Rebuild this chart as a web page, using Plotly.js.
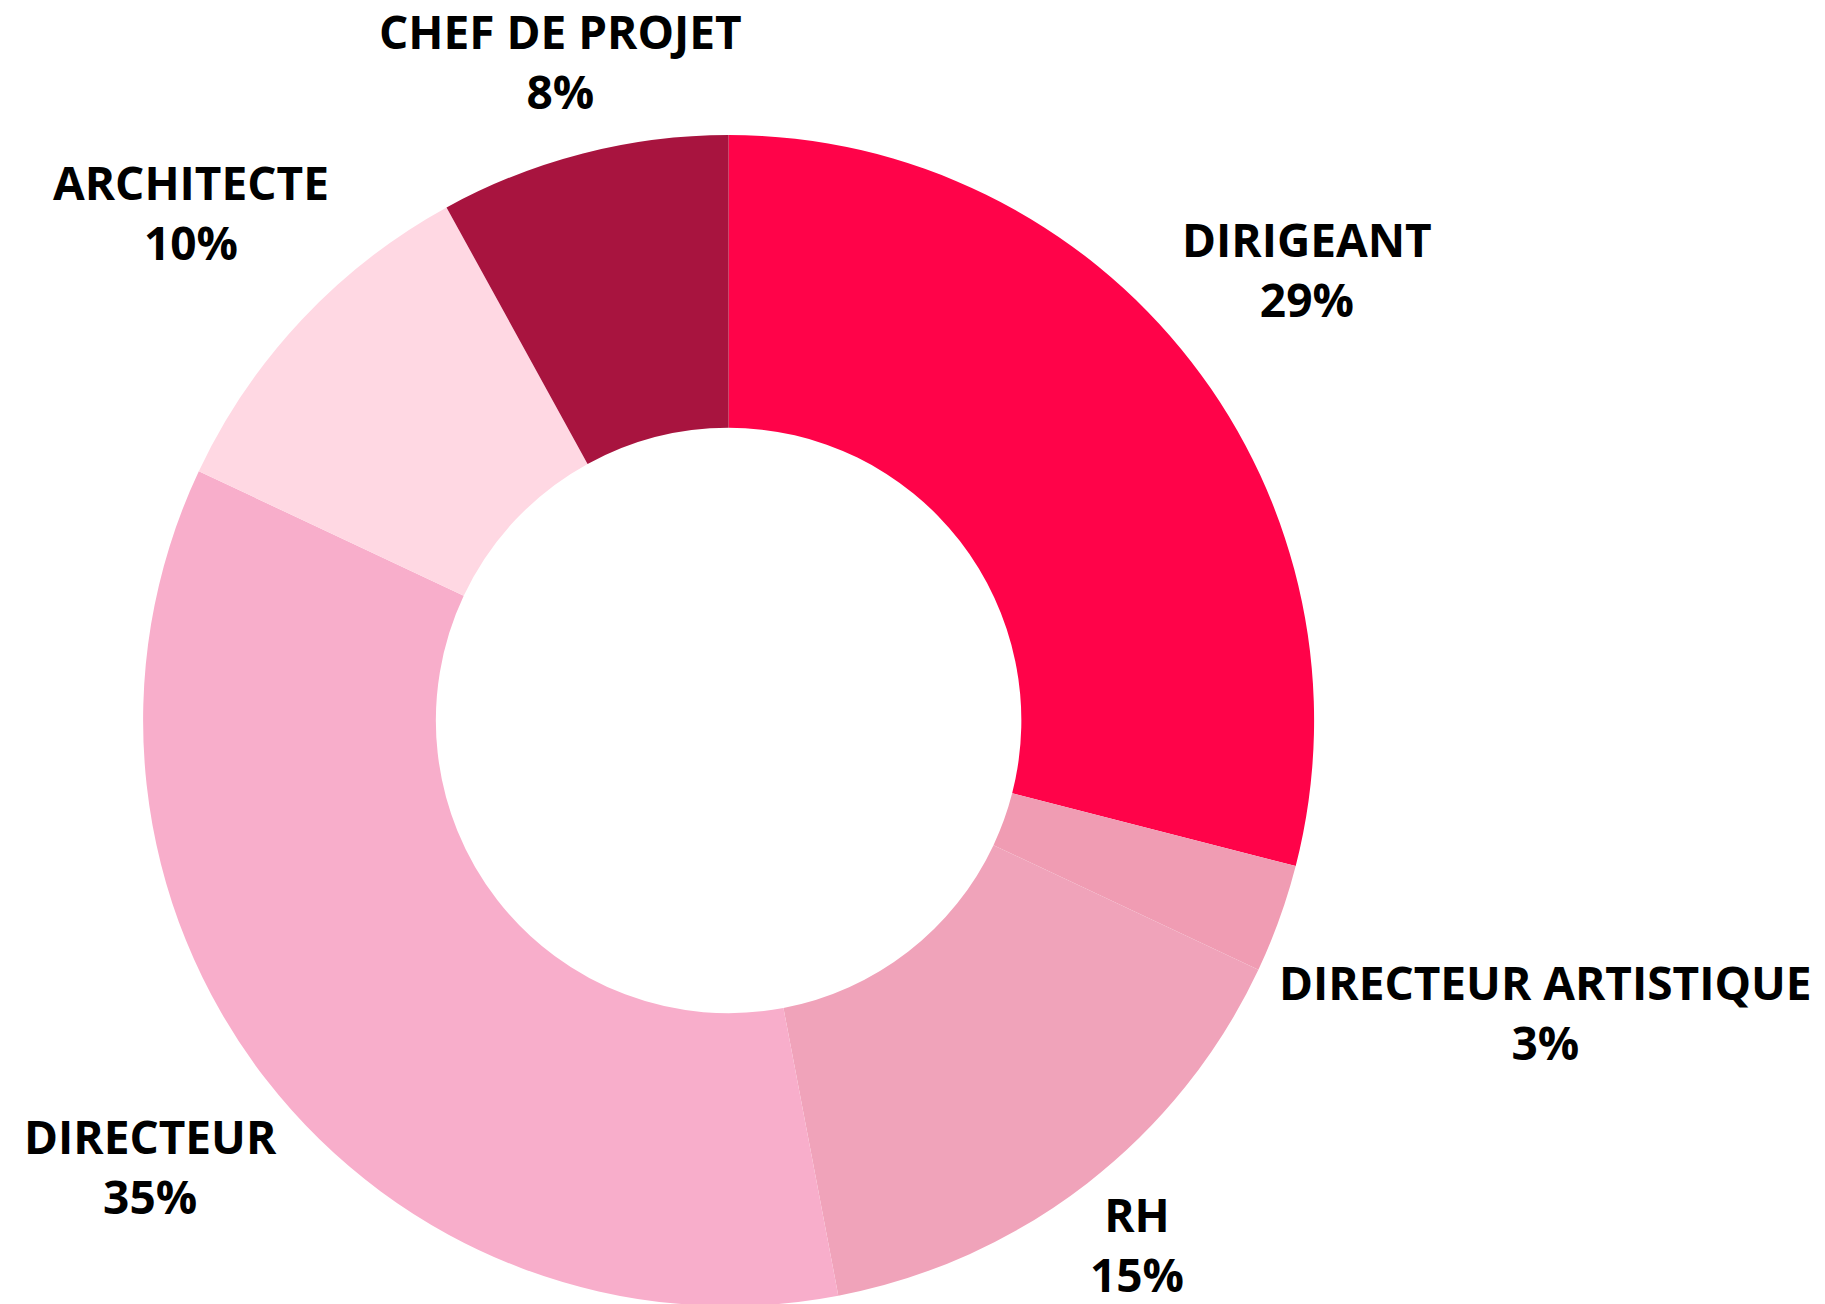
<!DOCTYPE html>
<html>
<head>
<meta charset="utf-8">
<script src="https://cdn.plot.ly/plotly-3.0.1.min.js"></script>
<style>
html,body{margin:0;padding:0;background:#fff;overflow:hidden;}
#chart{width:1825px;height:1310px;}
</style>
</head>
<body>
<div id="chart"></div>
<script>
const labels = ["DIRIGEANT", "DIRECTEUR ARTISTIQUE", "RH", "DIRECTEUR", "ARCHITECTE", "CHEF DE PROJET"];
const values = [29, 3, 15, 35, 10, 8];
const colors = ["#FF0349", "#F09CB3", "#F0A3BA", "#F8AECB", "#FFD8E3", "#A8143F"];

// label placement (layout only): distance of each label's centre from the pie centre, as a multiple of the outer radius
const labelRadius = [1.251, 1.4835, 1.137, 1.249, 1.260, 1.157];

const W = 1825, H = 1310;
const cx = 728.6, cy = 720.5, R = 585.5;

const trace = {
  type: "pie",
  labels: labels,
  values: values,
  hole: 0.5,
  sort: false,
  direction: "clockwise",
  rotation: 0,
  marker: {colors: colors, line: {width: 0}},
  textinfo: "none",
  hoverinfo: "none",
  showlegend: false,
  domain: {
    x: [(cx - R) / W, (cx + R) / W],
    y: [(H - cy - R) / H, (H - cy + R) / H]
  }
};

const total = values.reduce((a, b) => a + b, 0);
const annotations = [];
let cum = 0;
values.forEach((v, i) => {
  const mid = (cum + v / 2) / total;
  cum += v;
  const th = 2 * Math.PI * mid;
  const r = R * labelRadius[i];
  const px = cx + r * Math.sin(th);
  const py = cy - r * Math.cos(th);
  annotations.push({
    xref: "paper", yref: "paper",
    x: px / W, y: 1 - py / H,
    xanchor: "center", yanchor: "middle",
    yshift: 3,
    showarrow: false,
    align: "center",
    text: labels[i] + "<br>" + Math.round(v / total * 100) + "%",
    font: {family: "Open Sans", size: 46, color: "#000", weight: "bold"}
  });
});

const layout = {
  width: W,
  height: H,
  margin: {l: 0, r: 0, t: 0, b: 0},
  paper_bgcolor: "#fff",
  showlegend: false,
  annotations: annotations
};

Plotly.newPlot("chart", [trace], layout, {staticPlot: true});
</script>
</body>
</html>
